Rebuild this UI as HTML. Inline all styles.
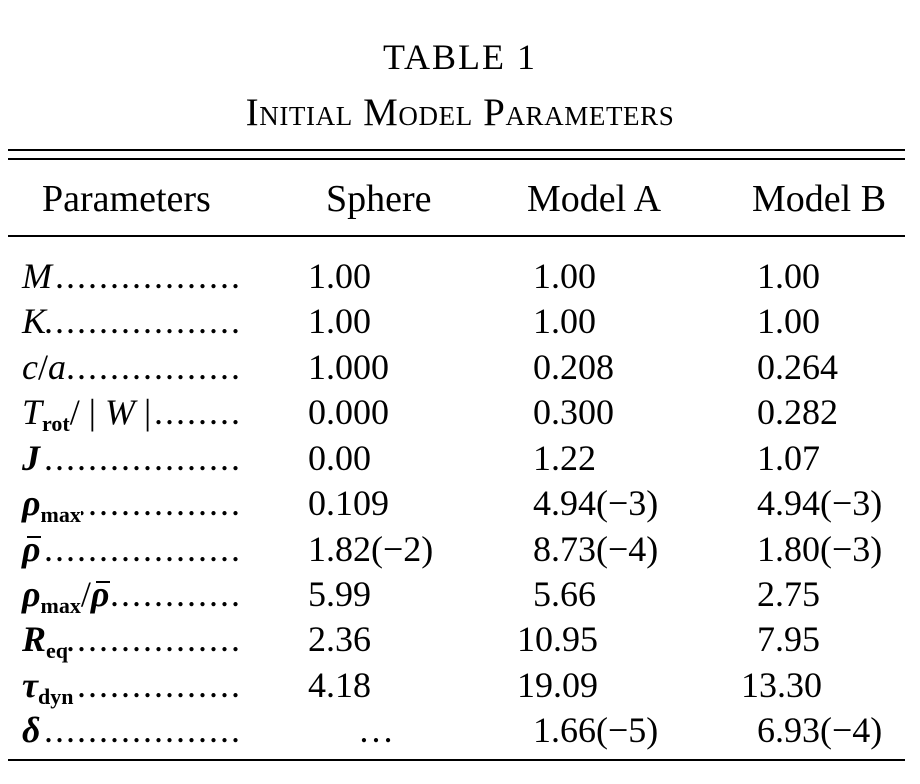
<!DOCTYPE html>
<html><head><meta charset="utf-8"><style>
body{margin:0;width:920px;height:784px;background:#fff;overflow:hidden;position:relative;font-family:"Liberation Serif",serif;color:#000}
.t{position:absolute;font-size:36px;line-height:36px;white-space:nowrap}
.h{font-size:38px}
.hr{position:absolute;left:8px;width:897px;background:#000}
.lab{position:absolute;left:22px;width:220px;font-size:36px;line-height:36px;display:flex;white-space:nowrap}
.lab .d{flex:1;overflow:hidden;direction:rtl;text-align:left;letter-spacing:2px;padding-left:12px}
i b{font-style:italic}
.ov{position:relative;display:inline-block}
.ov::after{content:"";position:absolute;left:5px;top:5px;width:14px;height:2px;background:#000}
sub{font-size:22px;vertical-align:-7px;line-height:0;font-weight:bold;font-style:normal}
</style></head><body>
<div class="t" style="left:0;width:920px;text-align:center;top:39px;letter-spacing:2px">TABLE 1</div>
<div class="t" style="left:0;width:920px;text-align:center;top:95px;font-size:39px;letter-spacing:0.6px;font-variant:small-caps">Initial Model Parameters</div>
<div class="hr" style="top:149px;height:2px"></div>
<div class="hr" style="top:158px;height:2px"></div>
<div class="t h" style="left:42px;top:181px">Parameters</div>
<div class="t h" style="left:326px;top:181px">Sphere</div>
<div class="t h" style="left:527px;top:181px">Model A</div>
<div class="t h" style="left:752px;top:181px">Model B</div>
<div class="hr" style="top:235px;height:2px"></div>
<div class="hr" style="top:759px;height:2px"></div>

<div class="lab" style="top:258px"><span><i>M</i></span><span class="d">....................................</span></div>
<div class="lab" style="top:303px"><span><i>K</i></span><span class="d">....................................</span></div>
<div class="lab" style="top:349px"><span><i>c</i>/<i>a</i></span><span class="d">....................................</span></div>
<div class="lab" style="top:394px"><span><i>T</i><sub>rot</sub>/ | <i>W</i> |</span><span class="d">....................................</span></div>
<div class="lab" style="top:440px"><span><i><b>J</b></i></span><span class="d">....................................</span></div>
<div class="lab" style="top:485px"><span><i><b>ρ</b></i><sub>max</sub></span><span class="d">....................................</span></div>
<div class="lab" style="top:531px"><span><i><b class="ov">ρ</b></i></span><span class="d">....................................</span></div>
<div class="lab" style="top:576px"><span><i><b>ρ</b></i><sub>max</sub>/<i><b class="ov">ρ</b></i></span><span class="d">....................................</span></div>
<div class="lab" style="top:621px"><span><i><b>R</b></i><sub>eq</sub></span><span class="d">....................................</span></div>
<div class="lab" style="top:667px"><span><i><b>τ</b></i><sub>dyn</sub></span><span class="d">....................................</span></div>
<div class="lab" style="top:712px"><span><i><b>δ</b></i></span><span class="d">....................................</span></div>

<div class="t" style="left:308px;top:258px">1.00</div>
<div class="t" style="left:308px;top:303px">1.00</div>
<div class="t" style="left:308px;top:349px">1.000</div>
<div class="t" style="left:308px;top:394px">0.000</div>
<div class="t" style="left:308px;top:440px">0.00</div>
<div class="t" style="left:308px;top:485px">0.109</div>
<div class="t" style="left:308px;top:531px">1.82(−2)</div>
<div class="t" style="left:308px;top:576px">5.99</div>
<div class="t" style="left:308px;top:621px">2.36</div>
<div class="t" style="left:308px;top:667px">4.18</div>
<div class="t" style="left:358px;top:712px">…</div>

<div class="t" style="left:533px;top:258px">1.00</div>
<div class="t" style="left:533px;top:303px">1.00</div>
<div class="t" style="left:533px;top:349px">0.208</div>
<div class="t" style="left:533px;top:394px">0.300</div>
<div class="t" style="left:533px;top:440px">1.22</div>
<div class="t" style="left:533px;top:485px">4.94(−3)</div>
<div class="t" style="left:533px;top:531px">8.73(−4)</div>
<div class="t" style="left:533px;top:576px">5.66</div>
<div class="t" style="left:517px;top:621px">10.95</div>
<div class="t" style="left:517px;top:667px">19.09</div>
<div class="t" style="left:533px;top:712px">1.66(−5)</div>

<div class="t" style="left:757px;top:258px">1.00</div>
<div class="t" style="left:757px;top:303px">1.00</div>
<div class="t" style="left:757px;top:349px">0.264</div>
<div class="t" style="left:757px;top:394px">0.282</div>
<div class="t" style="left:757px;top:440px">1.07</div>
<div class="t" style="left:757px;top:485px">4.94(−3)</div>
<div class="t" style="left:757px;top:531px">1.80(−3)</div>
<div class="t" style="left:757px;top:576px">2.75</div>
<div class="t" style="left:757px;top:621px">7.95</div>
<div class="t" style="left:741px;top:667px">13.30</div>
<div class="t" style="left:757px;top:712px">6.93(−4)</div>
</body></html>
